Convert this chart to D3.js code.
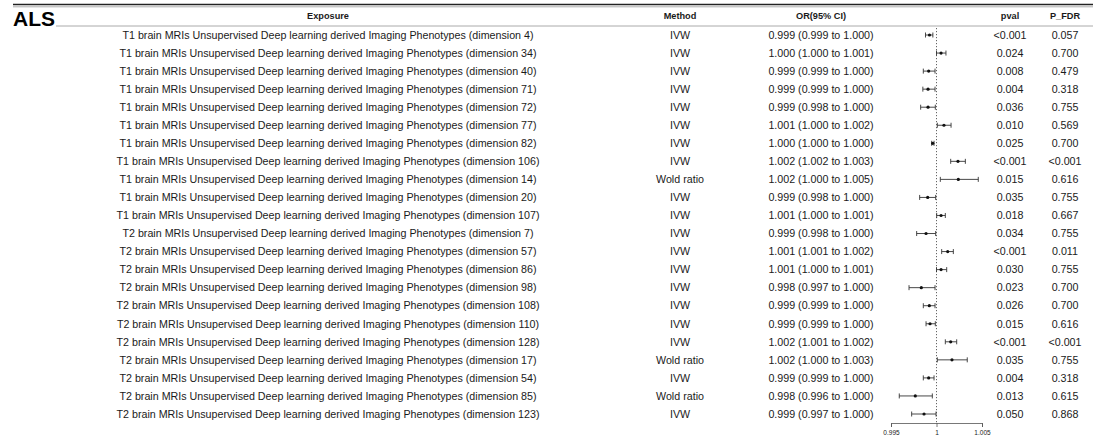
<!DOCTYPE html>
<html>
<head>
<meta charset="utf-8">
<script src="https://cdn.jsdelivr.net/npm/d3@7"></script>
<style>
  html, body { margin: 0; padding: 0; background: #fff; }
  text { font-family: "Liberation Sans", Arial, sans-serif; fill: #1a1a1a; }
</style>
</head>
<body>
<div id="chart"></div>
<script>
// Données
const exposures = [
  'T1 brain MRIs Unsupervised Deep learning derived Imaging Phenotypes (dimension 4)',
  'T1 brain MRIs Unsupervised Deep learning derived Imaging Phenotypes (dimension 34)',
  'T1 brain MRIs Unsupervised Deep learning derived Imaging Phenotypes (dimension 40)',
  'T1 brain MRIs Unsupervised Deep learning derived Imaging Phenotypes (dimension 71)',
  'T1 brain MRIs Unsupervised Deep learning derived Imaging Phenotypes (dimension 72)',
  'T1 brain MRIs Unsupervised Deep learning derived Imaging Phenotypes (dimension 77)',
  'T1 brain MRIs Unsupervised Deep learning derived Imaging Phenotypes (dimension 82)',
  'T1 brain MRIs Unsupervised Deep learning derived Imaging Phenotypes (dimension 106)',
  'T1 brain MRIs Unsupervised Deep learning derived Imaging Phenotypes (dimension 14)',
  'T1 brain MRIs Unsupervised Deep learning derived Imaging Phenotypes (dimension 20)',
  'T1 brain MRIs Unsupervised Deep learning derived Imaging Phenotypes (dimension 107)',
  'T2 brain MRIs Unsupervised Deep learning derived Imaging Phenotypes (dimension 7)',
  'T2 brain MRIs Unsupervised Deep learning derived Imaging Phenotypes (dimension 57)',
  'T2 brain MRIs Unsupervised Deep learning derived Imaging Phenotypes (dimension 86)',
  'T2 brain MRIs Unsupervised Deep learning derived Imaging Phenotypes (dimension 98)',
  'T2 brain MRIs Unsupervised Deep learning derived Imaging Phenotypes (dimension 108)',
  'T2 brain MRIs Unsupervised Deep learning derived Imaging Phenotypes (dimension 110)',
  'T2 brain MRIs Unsupervised Deep learning derived Imaging Phenotypes (dimension 128)',
  'T2 brain MRIs Unsupervised Deep learning derived Imaging Phenotypes (dimension 17)',
  'T2 brain MRIs Unsupervised Deep learning derived Imaging Phenotypes (dimension 54)',
  'T2 brain MRIs Unsupervised Deep learning derived Imaging Phenotypes (dimension 85)',
  'T2 brain MRIs Unsupervised Deep learning derived Imaging Phenotypes (dimension 123)'
];

const methods = ['IVW', 'IVW', 'IVW', 'IVW', 'IVW', 'IVW', 'IVW', 'IVW', 'Wold ratio', 'IVW', 'IVW',
  'IVW', 'IVW', 'IVW', 'IVW', 'IVW', 'IVW', 'IVW', 'Wold ratio', 'IVW', 'Wold ratio', 'IVW'];

const orLabels = [
  '0.999 (0.999 to 1.000)', '1.000 (1.000 to 1.001)', '0.999 (0.999 to 1.000)', '0.999 (0.999 to 1.000)',
  '0.999 (0.998 to 1.000)', '1.001 (1.000 to 1.002)', '1.000 (1.000 to 1.000)', '1.002 (1.002 to 1.003)',
  '1.002 (1.000 to 1.005)', '0.999 (0.998 to 1.000)', '1.001 (1.000 to 1.001)', '0.999 (0.998 to 1.000)',
  '1.001 (1.001 to 1.002)', '1.001 (1.000 to 1.001)', '0.998 (0.997 to 1.000)', '0.999 (0.999 to 1.000)',
  '0.999 (0.999 to 1.000)', '1.002 (1.001 to 1.002)', '1.002 (1.000 to 1.003)', '0.999 (0.999 to 1.000)',
  '0.998 (0.996 to 1.000)', '0.999 (0.997 to 1.000)'
];

// estimations et IC
const orValues = [0.99923, 1.00050, 0.99914, 0.99907, 0.99907, 1.00082, 0.99958, 1.00236, 1.00240, 0.99903, 1.00050,
  0.99885, 1.00123, 1.00050, 0.99833, 0.99921, 0.99929, 1.00156, 1.00170, 0.99914, 0.99767, 0.99863];
const lowerValues = [0.99879, 1.00000, 0.99855, 0.99850, 0.99826, 1.00009, 0.99947, 1.00156, 1.00042, 0.99815, 1.00002,
  0.99782, 1.00057, 1.00000, 0.99698, 0.99855, 0.99885, 1.00097, 1.00009, 0.99855, 0.99591, 0.99727];
const upperValues = [0.99960, 1.00104, 0.99984, 0.99984, 0.99987, 1.00160, 0.99973, 1.00317, 1.00459, 0.99991, 1.00097,
  0.99991, 1.00185, 1.00112, 0.99984, 0.99984, 0.99987, 1.00222, 1.00338, 0.99973, 0.99954, 0.99995];

const pvals = ['<0.001', '0.024', '0.008', '0.004', '0.036', '0.010', '0.025', '<0.001', '0.015', '0.035', '0.018',
  '0.034', '<0.001', '0.030', '0.023', '0.026', '0.015', '<0.001', '0.035', '0.004', '0.013', '0.050'];
const pfdrs = ['0.057', '0.700', '0.479', '0.318', '0.755', '0.569', '0.700', '<0.001', '0.616', '0.755', '0.667',
  '0.755', '0.011', '0.755', '0.700', '0.700', '0.616', '<0.001', '0.755', '0.318', '0.615', '0.868'];

const xTicks = [0.995, 1, 1.005];

const d3 = window.d3;
const width = 1095, height = 441;

const rows = exposures.map((e, i) => ({
  i, exposure: e, method: methods[i], label: orLabels[i],
  est: orValues[i], lo: lowerValues[i], hi: upperValues[i],
  pval: pvals[i], pfdr: pfdrs[i]
}));

const svg = d3.select('#chart').append('svg')
  .attr('width', width)
  .attr('height', height);

// Échelles
const yScale = d3.scalePoint()
  .domain(rows.map(d => d.i))
  .range([35, 414]);

const xScale = d3.scaleLinear()
  .domain([0.995, 1.005])
  .range([891, 982]);

// colonnes (centres)
const cols = { exposure: 328, method: 680, label: 821, pval: 1010, pfdr: 1065 };

// Lignes du tableau
svg.append('line').attr('x1', 13).attr('x2', 1093).attr('y1', 4.5).attr('y2', 4.5)
  .attr('stroke', '#222').attr('stroke-width', 1.5);
svg.append('line').attr('x1', 13).attr('x2', 1093).attr('y1', 6.8).attr('y2', 6.8)
  .attr('stroke', '#999').attr('stroke-width', 0.8);
svg.append('line').attr('x1', 56).attr('x2', 1093).attr('y1', 26).attr('y2', 26)
  .attr('stroke', '#aaa').attr('stroke-width', 1);

// Titre
svg.append('text')
  .attr('x', 13).attr('y', 26)
  .style('font-size', '21px').style('font-weight', 'bold').style('fill', '#000')
  .text('ALS');

// En-têtes
const headers = [['Exposure', cols.exposure], ['Method', cols.method], ['OR(95% CI)', cols.label],
  ['pval', cols.pval], ['P_FDR', cols.pfdr]];
svg.selectAll('.header')
  .data(headers)
  .enter()
  .append('text')
  .attr('class', 'header')
  .attr('x', d => d[1])
  .attr('y', 16)
  .attr('dy', '0.35em')
  .attr('text-anchor', 'middle')
  .style('font-size', '9.2px')
  .style('font-weight', 'bold')
  .text(d => d[0]);

// Texte des lignes
['exposure', 'method', 'label', 'pval', 'pfdr'].forEach(key => {
  svg.selectAll('.col-' + key)
    .data(rows)
    .enter()
    .append('text')
    .attr('class', 'col-' + key)
    .attr('x', cols[key])
    .attr('y', d => yScale(d.i))
    .attr('dy', '0.35em')
    .attr('text-anchor', 'middle')
    .style('font-size', '10.7px')
    .text(d => d[key]);
});

// Ligne de référence (OR = 1)
svg.append('line')
  .attr('x1', xScale(1)).attr('x2', xScale(1))
  .attr('y1', 28).attr('y2', 423)
  .attr('stroke', '#666')
  .attr('stroke-width', 1)
  .attr('stroke-dasharray', '1.2,1.8');

// Intervalles de confiance
const ci = svg.append('g').attr('stroke', '#333').attr('stroke-width', 0.9);
ci.selectAll('.ci')
  .data(rows)
  .enter()
  .append('line')
  .attr('x1', d => xScale(d.lo)).attr('x2', d => xScale(d.hi))
  .attr('y1', d => yScale(d.i)).attr('y2', d => yScale(d.i));
ci.selectAll('.cap-lo')
  .data(rows)
  .enter()
  .append('line')
  .attr('x1', d => xScale(d.lo)).attr('x2', d => xScale(d.lo))
  .attr('y1', d => yScale(d.i) - 2.5).attr('y2', d => yScale(d.i) + 2.5);
ci.selectAll('.cap-hi')
  .data(rows)
  .enter()
  .append('line')
  .attr('x1', d => xScale(d.hi)).attr('x2', d => xScale(d.hi))
  .attr('y1', d => yScale(d.i) - 2.5).attr('y2', d => yScale(d.i) + 2.5);

svg.selectAll('.point')
  .data(rows)
  .enter()
  .append('circle')
  .attr('cx', d => xScale(d.est))
  .attr('cy', d => yScale(d.i))
  .attr('r', 1.6)
  .attr('fill', '#111');

// Axe
const axis = svg.append('g')
  .attr('transform', 'translate(0,423)')
  .call(d3.axisBottom(xScale).tickValues(xTicks).tickFormat(d3.format('')).tickSize(4).tickSizeOuter(4));
axis.select('.domain').attr('stroke', '#555').attr('stroke-width', 0.8);
axis.selectAll('.tick line').attr('stroke', '#555').attr('stroke-width', 0.8);
axis.selectAll('.tick text')
  .attr('y', 7)
  .style('font-size', '6.5px')
  .style('font-family', '"Liberation Sans", Arial, sans-serif')
  .attr('fill', '#333');
</script>
</body>
</html>
